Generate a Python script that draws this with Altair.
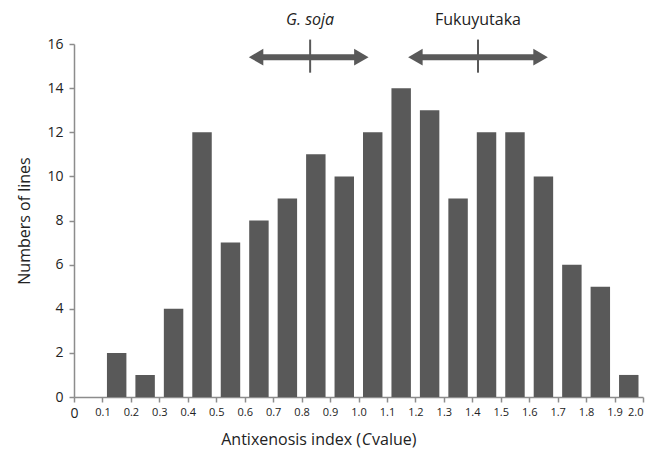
import altair as alt
import pandas as pd

bin_start = [round(i * 0.1, 1) for i in range(20)]
counts = [0, 2, 1, 4, 12, 7, 8, 9, 11, 10, 12, 14, 13, 9, 12, 12, 10, 6, 5, 1]
tick_values = [round(i * 0.1, 1) for i in range(21)]
y_ticks = [0, 2, 4, 6, 8, 10, 12, 14, 16]

groups = ["G. soja", "Fukuyutaka"]
range_lo = [0.64, 1.20]
range_hi = [1.01, 1.64]
range_mid = [0.83, 1.42]

df = pd.DataFrame({"lo": bin_start, "hi": [round(b + 0.1, 1) for b in bin_start], "n": counts})
ann = pd.DataFrame({"name": groups, "lo": range_lo, "hi": range_hi, "mid": range_mid,
                    "y": [15.4] * 2, "ytop": [16.2] * 2, "ybot": [14.7] * 2, "ylab": [17.1] * 2})

W, H = 569, 353
GREY = "#595959"
AX = "#8c8c8c"
FONT = "Open Sans"

x_scale = alt.Scale(domain=[0, 2.0], nice=False, zero=False)
y_scale = alt.Scale(domain=[0, 16], nice=False)

X_AXIS = alt.Axis(values=tick_values, title=None, grid=False, domainColor=AX, tickColor=AX,
                  domainWidth=1.5, tickWidth=1.5, tickSize=5, labelPadding=4,
                  labelFont=FONT, labelColor="#222",
                  labelFontSize={"expr": "datum.value == 0 ? 14 : 11"},
                  labelAlign={"expr": "datum.value >= 2 ? 'right' : 'center'"},
                  labelExpr="datum.value == 0 ? '0' : format(datum.value, '.1f')",
                  labelOverlap=False, labelFlush=False)
Y_AXIS = alt.Axis(values=y_ticks, title="Numbers of lines", grid=False,
                  domainColor=AX, tickColor=AX, domainWidth=1.5, tickWidth=1.5, tickSize=5,
                  labelFont=FONT, labelFontSize=14, labelColor="#222", labelPadding=6,
                  titleFont=FONT, titleFontSize=16, titleFontWeight="normal",
                  titleColor="#222", titlePadding=14)


def xq(f):
    return alt.X(f, scale=x_scale, axis=X_AXIS)


def yq(f):
    return alt.Y(f, scale=y_scale, axis=Y_AXIS)


bars = alt.Chart(df).mark_bar(color=GREY, xOffset=4.5, x2Offset=-4.5).encode(
    x=xq("lo:Q"), x2="hi:Q", y=yq("n:Q"), y2=alt.datum(0),
)

shaft = alt.Chart(ann).mark_rule(color=GREY, strokeWidth=6, clip=False).encode(
    x=xq("lo:Q"), x2="hi:Q", y=yq("y:Q"))
left_head = alt.Chart(ann).mark_point(shape="triangle-left", filled=True, color=GREY, size=280,
                                      opacity=1, clip=False).encode(x=xq("lo:Q"), y=yq("y:Q"))
right_head = alt.Chart(ann).mark_point(shape="triangle-right", filled=True, color=GREY, size=280,
                                       opacity=1, clip=False).encode(x=xq("hi:Q"), y=yq("y:Q"))
vline = alt.Chart(ann).mark_rule(color=GREY, strokeWidth=2, clip=False).encode(
    x=xq("mid:Q"), y=yq("ybot:Q"), y2="ytop:Q")
label_it = alt.Chart(ann).transform_filter("datum.name == 'G. soja'").mark_text(
    font=FONT, fontSize=16, color="#222", clip=False, fontStyle="italic").encode(
    x=xq("mid:Q"), y=yq("ylab:Q"), text="name:N")
label_n = alt.Chart(ann).transform_filter("datum.name != 'G. soja'").mark_text(
    font=FONT, fontSize=16, color="#222", clip=False).encode(
    x=xq("mid:Q"), y=yq("ylab:Q"), text="name:N")

ty = H + 43
t1 = alt.Chart(df).transform_filter("datum.lo == 0").mark_text(
    font=FONT, fontSize=16, color="#222", align="right").encode(
    x=alt.value(287), y=alt.value(ty), text=alt.value("Antixenosis index ("))
t2 = alt.Chart(df).transform_filter("datum.lo == 0").mark_text(
    font=FONT, fontSize=16, color="#222", align="center", fontStyle="italic").encode(
    x=alt.value(292.5), y=alt.value(ty), text=alt.value("C"))
t3 = alt.Chart(df).transform_filter("datum.lo == 0").mark_text(
    font=FONT, fontSize=16, color="#222", align="left").encode(
    x=alt.value(298), y=alt.value(ty), text=alt.value("value)"))

chart = alt.layer(bars, shaft, left_head, right_head, vline, label_it, label_n, t1, t2, t3).properties(
    width=W, height=H, autosize=alt.AutoSizeParams(type="none"),
    padding={"left": 66, "top": 36, "right": 2, "bottom": 52}, background="white",
).configure_view(stroke=None)

chart.save("out.html", embed_options={"renderer": "svg", "actions": False})
